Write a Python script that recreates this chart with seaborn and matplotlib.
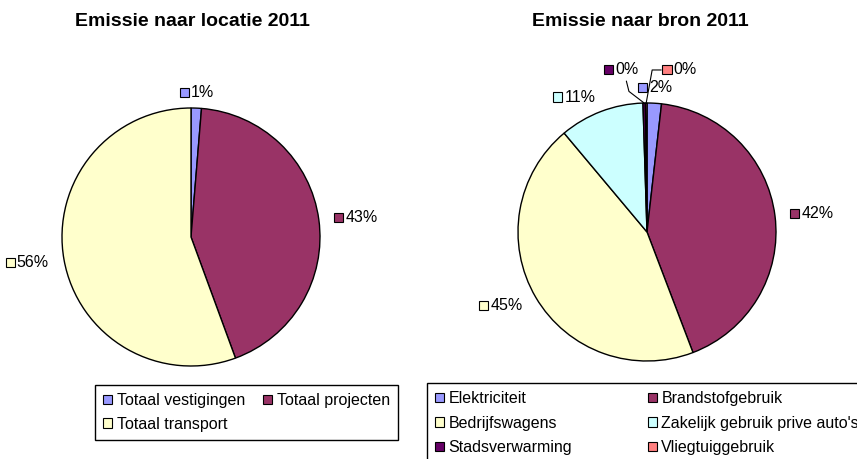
import matplotlib
matplotlib.use("Agg")
import matplotlib.pyplot as plt
import seaborn as sns
import numpy as np
from matplotlib.patches import Rectangle
from matplotlib.offsetbox import DrawingArea, TextArea, HPacker, AnnotationBbox

# data
loc_labels = ["Totaal vestigingen", "Totaal projecten", "Totaal transport"]
loc_values = [1.3, 43.1, 55.6]
loc_colors = ["#9999FF", "#993366", "#FFFFCC"]

bron_labels = ["Elektriciteit", "Brandstofgebruik", "Bedrijfswagens",
               "Zakelijk gebruik prive auto's", "Stadsverwarming", "Vliegtuiggebruik"]
bron_values = [1.8, 42.4, 44.7, 10.6, 0.3, 0.2]
bron_colors = ["#9999FF", "#993366", "#FFFFCC", "#CCFFFF", "#660066", "#FF8080"]

sns.set_style("white")
plt.rcParams["font.family"] = ["Liberation Sans", "DejaVu Sans"]
plt.rcParams["text.color"] = "black"

W, H = 857, 459
FS = 11.5
fig = plt.figure(figsize=(W / 100, H / 100), dpi=100)


def add_label(ax, x, y, color, text, align):
    da = DrawingArea(6.5, 6.5, 0, 0)
    da.add_artist(Rectangle((0, 0), 6.5, 6.5, fc=color, ec="black", lw=0.8))
    ta = TextArea(text, textprops=dict(fontsize=FS, color="black"))
    box = HPacker(children=[da, ta], align="center", pad=0, sep=1.5)
    ab = AnnotationBbox(box, (x, y), xycoords="data", box_alignment=align,
                        frameon=False, pad=0, annotation_clip=False)
    ax.add_artist(ab)


def draw_pie(ax, values, colors, manual=None):
    wedges, _ = ax.pie(values, colors=colors, startangle=90, counterclock=False,
                       wedgeprops=dict(edgecolor="black", linewidth=1))
    ax.set_xlim(-1, 1)
    ax.set_ylim(-1, 1)
    ax.set_aspect("auto")
    manual = manual or {}
    for i, (w, v) in enumerate(zip(wedges, values)):
        mid = np.deg2rad((w.theta1 + w.theta2) / 2)
        cx, cy = np.cos(mid), np.sin(mid)
        txt = f"{round(v)}%"
        if i in manual:
            lx, ly, knee, al = manual[i]
            ax.plot([cx, knee[0], knee[2]], [cy, knee[1], knee[3]],
                    color="black", lw=0.8, clip_on=False)
            add_label(ax, lx, ly, colors[i], txt, al)
            continue
        px, py = cx * 1.12, cy * 1.12
        if px > 0.25:
            al = (0, 0.5)
        elif px < -0.25:
            al = (1, 0.5)
        else:
            al = (0.5, 0.5)
        add_label(ax, px, py, colors[i], txt, al)
    return wedges


ax1 = fig.add_axes([62 / W, 93 / H, 258 / W, 258 / H])
draw_pie(ax1, loc_values, loc_colors)

ax2 = fig.add_axes([518 / W, 98 / H, 258 / W, 258 / H])
# label layout for the two tiny slices (label pos, leader knee, alignment)
bron_manual = {
    4: (-0.33, 1.256, (-0.14, 1.09, -0.16, 1.17), (0, 0.5)),
    5: (0.12, 1.256, (0.04, 1.256, 0.11, 1.256), (0, 0.5)),
}
draw_pie(ax2, bron_values, bron_colors, bron_manual)

fig.text(192 / W, 1 - 22 / H, "Emissie naar locatie 2011", ha="center", va="center",
         fontsize=14, fontweight="bold", color="black")
fig.text(640 / W, 1 - 22 / H, "Emissie naar bron 2011", ha="center", va="center",
         fontsize=14, fontweight="bold", color="black")

leg_kw = dict(loc="upper left", mode="expand", ncol=2, fontsize=FS, frameon=True,
              fancybox=False, shadow=False, framealpha=1, borderaxespad=0,
              handlelength=0.55, handleheight=0.55, handletextpad=0.3,
              borderpad=0.5)


def row_major(items, ncol=2):
    # Excel fills legend rows first, matplotlib fills columns first
    return [items[i] for c in range(ncol) for i in range(c, len(items), ncol)]


h1 = [Rectangle((0, 0), 1, 1, fc=c, ec="black", lw=0.8) for c in loc_colors]
leg1 = fig.legend(row_major(h1), row_major(loc_labels),
                  bbox_to_anchor=(95 / W, 1 - 385 / H, 303 / W, 0),
                  labelspacing=0.55, **leg_kw)
leg1.get_frame().set_edgecolor("black")
leg1.get_frame().set_linewidth(1)

h2 = [Rectangle((0, 0), 1, 1, fc=c, ec="black", lw=0.8) for c in bron_colors]
leg2 = fig.legend(row_major(h2), row_major(bron_labels),
                  bbox_to_anchor=(427 / W, 1 - 383 / H, 440 / W, 0),
                  labelspacing=0.6, **leg_kw)
leg2.get_frame().set_edgecolor("black")
leg2.get_frame().set_linewidth(1)

fig.savefig("out.png", dpi=100)
